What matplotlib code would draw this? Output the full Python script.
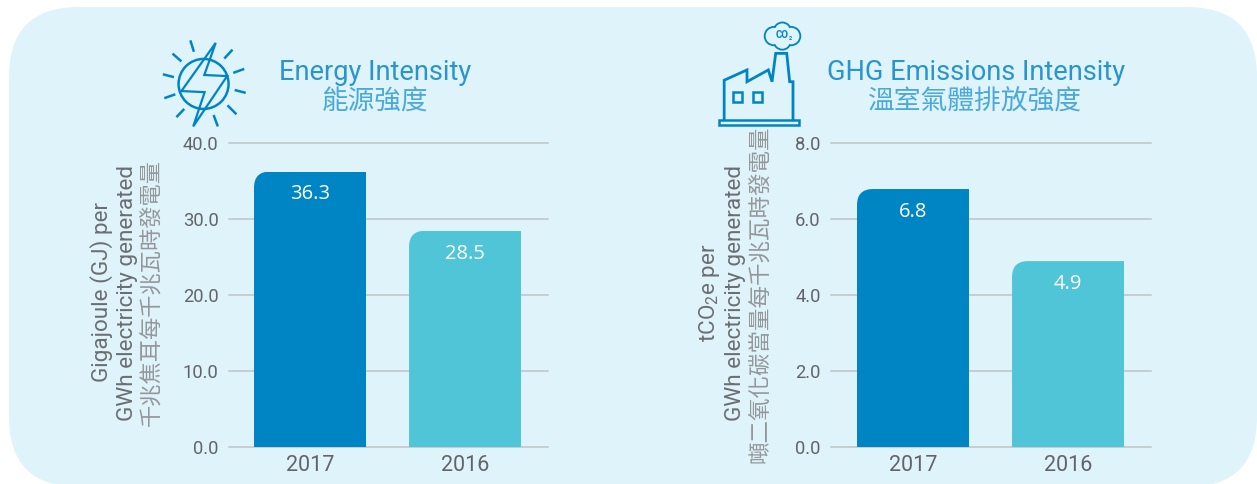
import matplotlib
matplotlib.use("Agg")
import matplotlib.pyplot as plt
from matplotlib.patches import Circle, FancyBboxPatch, PathPatch, Polygon, Rectangle
from matplotlib.path import Path

# === Data ===
years = ["2017", "2016"]
energy_values = [36.3, 28.5]
ghg_values = [6.8, 4.9]
energy_ticks = [0, 10, 20, 30, 40]
ghg_ticks = [0, 2, 4, 6, 8]

energy_title = ["Energy Intensity", "能源強度"]
ghg_title = ["GHG Emissions Intensity", "溫室氣體排放強度"]
energy_ylabel = ["Gigajoule (GJ) per", "GWh electricity generated", "千兆焦耳每千兆瓦時發電量"]
ghg_ylabel = ["tCO$_2$e per", "GWh electricity generated", "噸二氧化碳當量每千兆瓦時發電量"]

# === Style ===
W, H = 1257, 484
BG = "#dff3fb"
BLUE = "#0085c4"
CYAN = "#50c5d8"
TITLE = "#2a94cd"
TITLE_CJK = "#4aa9da"
GREY = "#626568"
YLABEL = "#6b6e71"
GREY_CJK = "#94979a"
GRID = "#bfc4c8"
LATIN = ["Roboto", "Noto Sans CJK TC"]
CJK = ["Noto Sans CJK TC", "DejaVu Sans"]

plt.rcParams["font.family"] = LATIN
plt.rcParams["mathtext.default"] = "regular"

fig = plt.figure(figsize=(W / 100, H / 100), dpi=100, facecolor="white")

# overlay in picture pixels, for the panel, icons and titles
bg = fig.add_axes([0, 0, 1, 1], zorder=0)
bg.set_xlim(0, W)
bg.set_ylim(H, 0)
bg.axis("off")
bg.add_patch(FancyBboxPatch((79, 77), 1108, 340, boxstyle="round,pad=70,rounding_size=70",
                            fc=BG, ec="none"))


def draw_panel(left, right, values, ticks, xlim):
    ax = fig.add_axes([left / W, 1 - 447 / H, (right - left) / W, (447 - 143.5) / H], zorder=1)
    ax.patch.set_alpha(0)
    bars = ax.bar([0, 1], values, width=0.7226, color=[BLUE, CYAN], zorder=3)
    ax.set_xlim(*xlim)
    ax.set_ylim(ticks[0], ticks[-1])
    ax.set_yticks(ticks)
    ax.set_yticklabels([f"{t:.1f}" for t in ticks], fontsize=13.2, color=GREY)
    ax.set_xticks([0, 1])
    ax.set_xticklabels(years, fontsize=15.5, color=GREY)
    ax.tick_params(axis="y", length=0, pad=7.5)
    ax.tick_params(axis="x", length=0, pad=6)
    ax.grid(axis="y", color=GRID, linewidth=1.1, zorder=1)
    ax.set_axisbelow(True)
    for s in ax.spines.values():
        s.set_visible(False)
    for g in ax.get_ygridlines():
        g.set_clip_on(False)

    # round the top left corner of each bar
    y_per_px = ticks[-1] / (447 - 143.5)
    x_per_px = (xlim[1] - xlim[0]) / (right - left)
    rx, ry = 16 * x_per_px, 16 * y_per_px
    for b in bars:
        x0, x1, top = b.get_x(), b.get_x() + b.get_width(), b.get_height()
        verts = [(x0, 0), (x0, top - ry), (x0, top), (x0 + rx, top), (x1, top), (x1, 0), (x0, 0)]
        codes = [Path.MOVETO, Path.LINETO, Path.CURVE3, Path.CURVE3, Path.LINETO, Path.LINETO, Path.CLOSEPOLY]
        b.set_clip_path(PathPatch(Path(verts, codes), transform=ax.transData))
        ax.annotate(f"{top:.1f}", (b.get_x() + b.get_width() / 2, top), xytext=(0, -16.5),
                    textcoords="offset points", ha="center", va="center",
                    color="white", fontsize=14.5, family="Open Sans", zorder=4)
    return ax


draw_panel(229, 548, energy_values, energy_ticks, (-0.5226, 1.535))
draw_panel(831, 1151, ghg_values, ghg_ticks, (-0.529, 1.535))

# === Titles ===
bg.text(375, 73, energy_title[0], fontsize=19.6, color=TITLE, ha="center", va="center")
bg.text(375, 102, energy_title[1], fontsize=19.2, color=TITLE_CJK, ha="center", va="center", family=CJK)
bg.text(976, 73, ghg_title[0], fontsize=19.6, color=TITLE, ha="center", va="center")
bg.text(975, 102, ghg_title[1], fontsize=19.3, color=TITLE_CJK, ha="center", va="center", family=CJK)

# === Y labels, one text per line ===
for x, y, s, fam, size, col in [
    (102, 292, energy_ylabel[0], LATIN, 16.2, YLABEL),
    (128, 293, energy_ylabel[1], LATIN, 16.2, YLABEL),
    (152, 292, energy_ylabel[2], CJK, 16, GREY_CJK),
    (710, 293, ghg_ylabel[0], LATIN, 16.2, YLABEL),
    (736, 293, ghg_ylabel[1], LATIN, 16.2, YLABEL),
    (761, 294, ghg_ylabel[2], CJK, 16.2, GREY_CJK),
]:
    bg.text(x, y, s, rotation=90, fontsize=size, color=col, ha="center", va="center", family=fam)

# === Sun icon (coordinates from the 2.8x crop) ===
SUN = 2.8
bg.add_patch(Circle((570 / SUN, 235 / SUN), 25, fc="none", ec=BLUE, lw=1.8))
rays = [((533, 113), (543, 145)), ((483, 150), (508, 172)), ((456, 208), (487, 216)),
        ((460, 275), (491, 264)), ((494, 328), (516, 305)), ((598, 322), (610, 354)),
        ((637, 295), (662, 320)), ((657, 252), (688, 260)), ((653, 204), (684, 193)),
        ((628, 164), (651, 139))]
for (x0, y0), (x1, y1) in rays:
    bg.plot([x0 / SUN, x1 / SUN], [y0 / SUN, y1 / SUN], color=BLUE, lw=1.8, solid_capstyle="butt")
bolt = [(604, 120), (572, 210), (636, 213), (541, 354), (573, 258), (508, 255)]
bg.add_patch(Polygon([(x / SUN, y / SUN) for x, y in bolt], closed=True, fc="none", ec=BLUE, lw=1.6, joinstyle="miter"))

# === Factory icon (coordinates from the 2.717x crop) ===
FAC = 2.717
body = [(120, 325), (120, 218), (182, 190), (182, 222), (240, 190), (250, 222), (260, 145),
        (290, 145), (298, 222), (307, 222), (307, 325)]
bg.plot([680 + x / FAC for x, y in body], [y / FAC for x, y in body], color=BLUE, lw=2, solid_joinstyle="miter")
bg.add_patch(Rectangle((680 + 107 / FAC, 325 / FAC), 215 / FAC, 14 / FAC, fc="none", ec=BLUE, lw=1.8))
for wx in (143, 198):
    bg.add_patch(Rectangle((680 + wx / FAC, 250 / FAC), 25 / FAC, 28 / FAC, fc="none", ec=BLUE, lw=1.8))
lobes = [(255, 98, 24), (278, 84, 22), (302, 98, 24), (278, 112, 22)]
for cx, cy, r in lobes:
    bg.add_patch(Circle((680 + cx / FAC, cy / FAC), r / FAC, fc=BG, ec=BLUE, lw=1.8, zorder=3))
for cx, cy, r in lobes:
    bg.add_patch(Circle((680 + cx / FAC, cy / FAC), r / FAC - 0.6, fc=BG, ec="none", zorder=4))
bg.text(782, 35, "CO", fontsize=7, color=BLUE, ha="center", va="center", fontweight="bold", zorder=5)
bg.text(790, 38, "2", fontsize=4, color=BLUE, ha="center", va="center", fontweight="bold", zorder=5)

fig.savefig("out.png", dpi=100, facecolor="white")
